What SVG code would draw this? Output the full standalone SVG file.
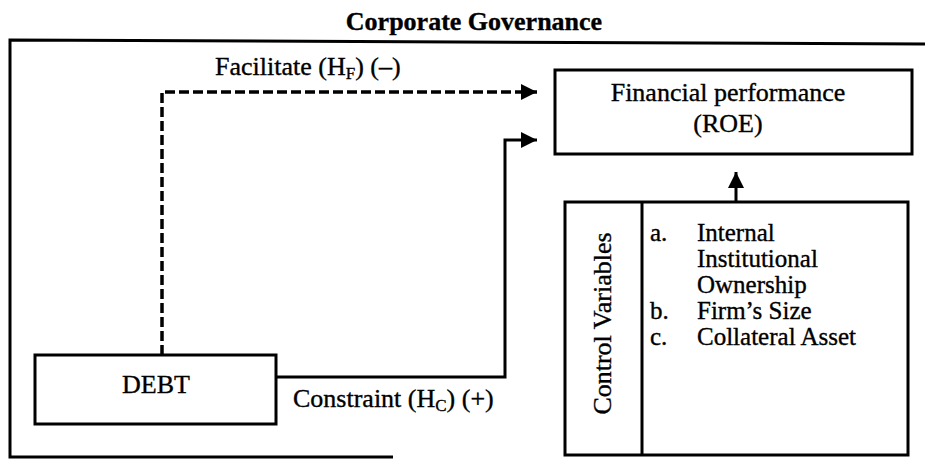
<svg xmlns="http://www.w3.org/2000/svg" width="925" height="462" viewBox="0 0 925 462">
<defs>
<marker id="ah" markerUnits="userSpaceOnUse" markerWidth="18" markerHeight="16" refX="16" refY="8" orient="auto">
<path d="M0,0 L16,8 L0,16 Z" fill="#000"/>
</marker>
</defs>
<style>
text{font-family:"Liberation Serif","Times New Roman",serif;fill:#000;stroke:#000;stroke-width:0.35;font-size:26px}
.box{fill:#fff;stroke:#000;stroke-width:3}
.ln{fill:none;stroke:#000;stroke-width:3}
.dash{fill:none;stroke:#000;stroke-width:3.5;stroke-dasharray:10 4}
.sub{font-size:17px}
.li{font-size:25px}
</style>
<rect width="925" height="462" fill="#fff"/>
<g id="frame">
<text x="474" y="30" text-anchor="middle" font-weight="bold">Corporate Governance</text>
<path class="ln" d="M925,44 L10,40 L10,457 L393,457"/>
</g>
<g id="connectors">
<path class="dash" d="M162,355 L162,92 L537,92" marker-end="url(#ah)"/>
<path class="ln" d="M276,377 L505,377 L505,140 L537,140" marker-end="url(#ah)"/>
<path class="ln" d="M736,202 L736,172" marker-end="url(#ah)"/>
<text x="215" y="75">Facilitate (H<tspan class="sub" dy="4">F</tspan><tspan dy="-4">) (–)</tspan></text>
<text x="293" y="407">Constraint (H<tspan class="sub" dy="4">C</tspan><tspan dy="-4">) (+)</tspan></text>
</g>
<g id="financial">
<rect class="box" x="555" y="70" width="357" height="84"/>
<text x="728" y="101" text-anchor="middle">Financial performance</text>
<text x="728" y="132" text-anchor="middle">(ROE)</text>
</g>
<g id="debt">
<rect class="box" x="35" y="355" width="241" height="69"/>
<text x="156" y="393" text-anchor="middle">DEBT</text>
</g>
<g id="control">
<rect class="box" x="565" y="202" width="343" height="253"/>
<line class="ln" x1="642" y1="202" x2="642" y2="455"/>
<text transform="translate(611,323.5) rotate(-90)" text-anchor="middle">Control Variables</text>
<text class="li" x="650" y="241">a.</text><text class="li" x="697" y="241">Internal</text>
<text class="li" x="697" y="267">Institutional</text>
<text class="li" x="697" y="293">Ownership</text>
<text class="li" x="650" y="319">b.</text><text class="li" x="697" y="319">Firm’s Size</text>
<text class="li" x="650" y="345">c.</text><text class="li" x="697" y="345">Collateral Asset</text>
</g>
</svg>
